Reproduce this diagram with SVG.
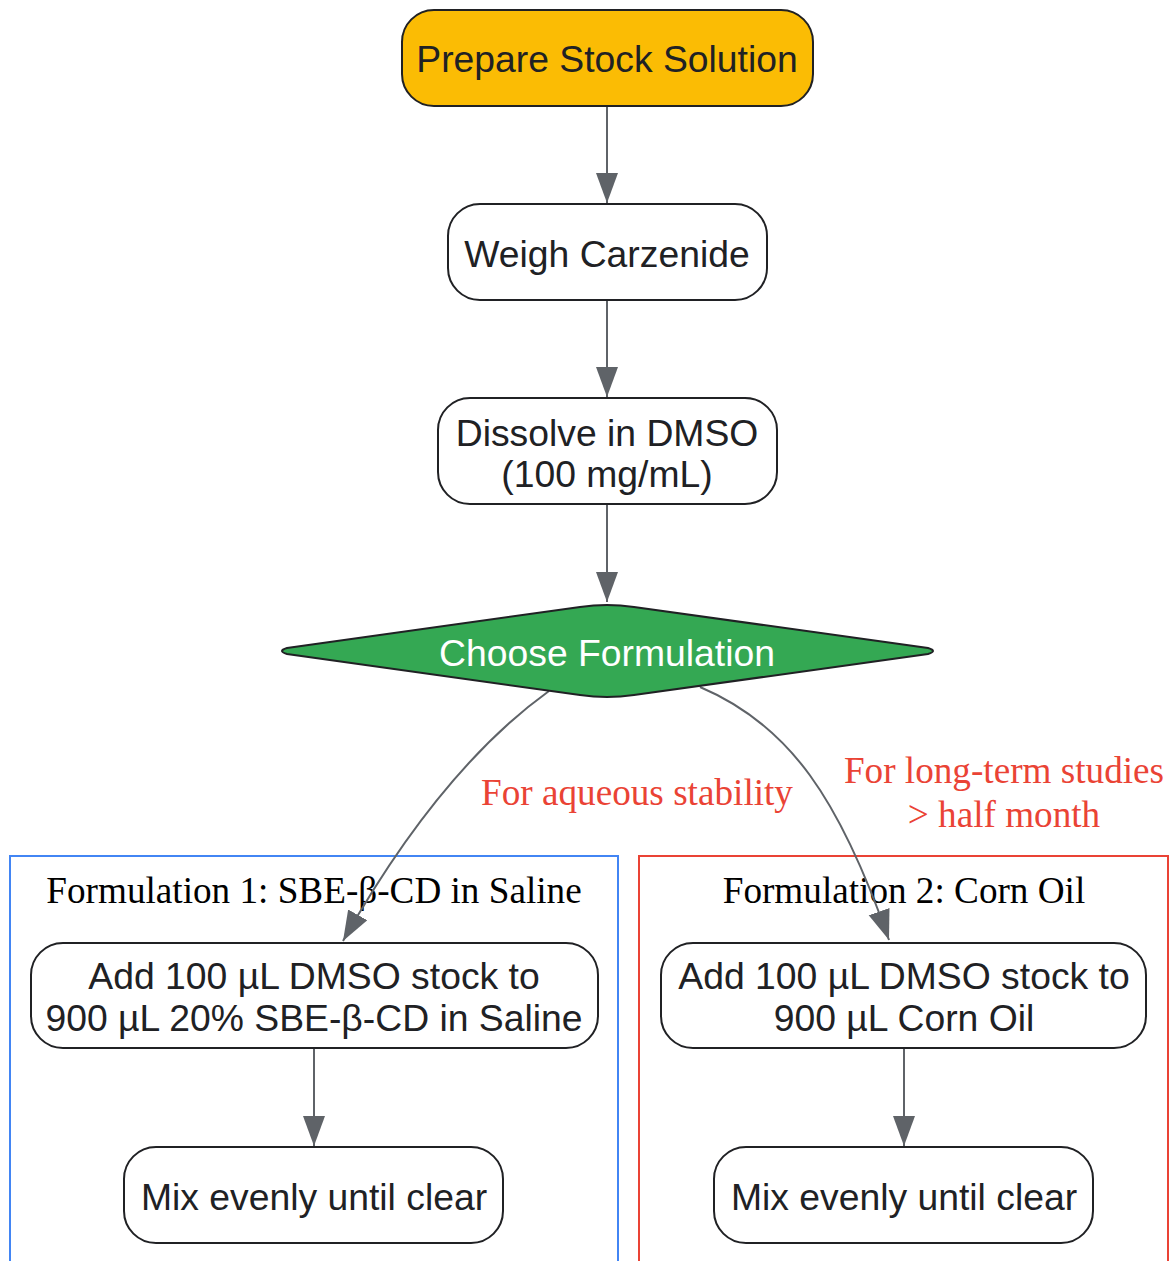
<svg xmlns="http://www.w3.org/2000/svg" width="1169" height="1261" viewBox="0 0 1169 1261">
<style>
.node rect{fill:#ffffff;stroke:#202124;stroke-width:2}
.ntxt{font-family:"Liberation Sans",Arial,sans-serif;font-size:37.3px;fill:#202124;text-anchor:middle}
.edge{fill:none;stroke:#5F6368;stroke-width:2}
.elbl{font-family:"Liberation Serif","Times New Roman",serif;font-size:37.2px;fill:#EA4335;text-anchor:middle}
.ctitle{font-family:"Liberation Serif","Times New Roman",serif;font-size:37.2px;fill:#000000;text-anchor:middle}
</style>
<defs>
<marker id="arr" markerUnits="userSpaceOnUse" markerWidth="32" markerHeight="24" refX="30" refY="11" orient="auto">
<path d="M0,0 L30,11 L0,22 Z" fill="#5F6368"/>
</marker>
</defs>
<rect width="1169" height="1261" fill="#ffffff"/>
<g id="cluster1">
<rect x="10" y="856" width="608" height="430" fill="none" stroke="#4285F4" stroke-width="2"/>
<text class="ctitle" x="314" y="903">Formulation 1: SBE-β-CD in Saline</text>
</g>
<g id="cluster2">
<rect x="639" y="856" width="529" height="430" fill="none" stroke="#EA4335" stroke-width="2"/>
<text class="ctitle" x="904" y="903">Formulation 2: Corn Oil</text>
</g>
<g id="connectors">
<path class="edge" d="M607,106 L607,203" marker-end="url(#arr)"/>
<path class="edge" d="M607,300 L607,397" marker-end="url(#arr)"/>
<path class="edge" d="M607,504 L607,602" marker-end="url(#arr)"/>
<path class="edge" d="M549,691 C470,748 400,840 343,941" marker-end="url(#arr)"/>
<path class="edge" d="M700,687 C790,725 840,800 889,940" marker-end="url(#arr)"/>
<path class="edge" d="M314,1048 L314,1146" marker-end="url(#arr)"/>
<path class="edge" d="M904,1048 L904,1146" marker-end="url(#arr)"/>
<text class="elbl" x="637" y="805">For aqueous stability</text>
<text class="elbl" x="1004" y="783">For long-term studies</text>
<text class="elbl" x="1004" y="827">&gt; half month</text>
</g>
<g id="prepare" class="node">
<rect x="402" y="10" width="411" height="96" rx="32" style="fill:#FBBC04"/>
<text class="ntxt" x="607" y="72">Prepare Stock Solution</text>
</g>
<g id="weigh" class="node">
<rect x="448" y="204" width="319" height="96" rx="32"/>
<text class="ntxt" x="607" y="267">Weigh Carzenide</text>
</g>
<g id="dissolve" class="node">
<rect x="438" y="398" width="339" height="106" rx="32"/>
<text class="ntxt" x="607" y="446">Dissolve in DMSO</text>
<text class="ntxt" x="607" y="487">(100 mg/mL)</text>
</g>
<g id="choose">
<path d="M287,648 L580,607 Q607,603 634,607 L928,648 Q938,651 928,654 L634,695 Q607,699 580,695 L287,654 Q277,651 287,648 Z" fill="#34A853" stroke="#202124" stroke-width="2"/>
<text class="ntxt" x="607" y="666" style="fill:#ffffff">Choose Formulation</text>
</g>
<g id="add1" class="node">
<rect x="31" y="943" width="567" height="105" rx="32"/>
<text class="ntxt" x="314" y="989">Add 100 µL DMSO stock to</text>
<text class="ntxt" x="314" y="1031">900 µL 20% SBE-β-CD in Saline</text>
</g>
<g id="add2" class="node">
<rect x="661" y="943" width="485" height="105" rx="32"/>
<text class="ntxt" x="904" y="989">Add 100 µL DMSO stock to</text>
<text class="ntxt" x="904" y="1031">900 µL Corn Oil</text>
</g>
<g id="mix1" class="node">
<rect x="124" y="1147" width="379" height="96" rx="32"/>
<text class="ntxt" x="314" y="1210">Mix evenly until clear</text>
</g>
<g id="mix2" class="node">
<rect x="714" y="1147" width="379" height="96" rx="32"/>
<text class="ntxt" x="904" y="1210">Mix evenly until clear</text>
</g>
</svg>
